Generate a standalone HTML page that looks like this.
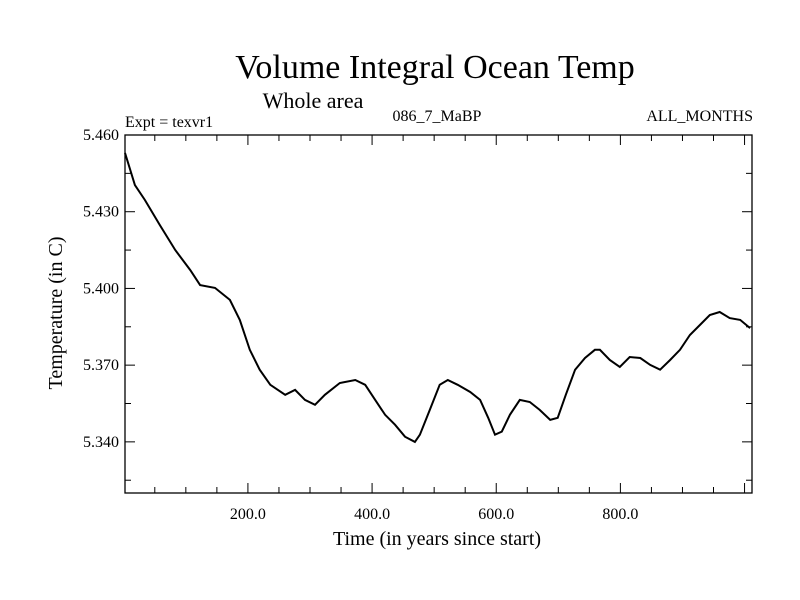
<!DOCTYPE html>
<html><head><meta charset="utf-8"><style>
body{margin:0;background:#fff;}
svg{display:block;font-family:"Liberation Serif",serif;}
</style></head><body>
<svg id="chart" width="800" height="600">
<text x="435" y="78" font-size="34" text-anchor="middle">Volume Integral Ocean Temp</text>
<text x="313" y="108" font-size="22" text-anchor="middle">Whole area</text>
<text x="125" y="127" font-size="16">Expt = texvr1</text>
<text x="437" y="121" font-size="16" text-anchor="middle">086_7_MaBP</text>
<text x="753" y="121" font-size="16" text-anchor="end">ALL_MONTHS</text>
<text transform="translate(62,313) rotate(-90)" font-size="20" text-anchor="middle">Temperature (in C)</text>
<text x="437" y="545" font-size="20" text-anchor="middle">Time (in years since start)</text>
<g id="axes"></g>
<path id="line" fill="none" stroke="#000" stroke-width="2"></path>
</svg>
<script>
const years=[2,18,34,58,83,107,123,147,171,187,203,219,236,260,276,292,308,324,348,373,389,405,421,437,453,469,477,493,509,522,538,558,574,587,598,609,622,638,654,670,687,699,712,727,743,759,767,783,799,815,832,848,864,880,896,912,928,944,960,976,993,1009];
const temps=[5.453,5.4404,5.4346,5.4248,5.415,5.4072,5.4013,5.4002,5.3955,5.3877,5.376,5.3682,5.3623,5.3584,5.3603,5.3564,5.3545,5.3584,5.3630,5.3642,5.3623,5.3564,5.3506,5.3467,5.342,5.34,5.3428,5.3525,5.3623,5.3642,5.3623,5.3595,5.3564,5.3494,5.3428,5.344,5.3506,5.3564,5.3556,5.3525,5.3486,5.3494,5.3584,5.3682,5.3728,5.376,5.376,5.372,5.3693,5.3732,5.3728,5.3701,5.3682,5.372,5.376,5.3818,5.3857,5.3896,5.3908,5.3884,5.3877,5.3845];
const xTicks=[200,400,600,800];
const xTickLabels=["200.0","400.0","600.0","800.0"];
const yTicks=[5.34,5.37,5.40,5.43,5.46];
const yTickLabels=["5.340","5.370","5.400","5.430","5.460"];
const X0=125,X1=752,Y0=135,Y1=493,xmin=2,xmax=1012,ymin=5.32,ymax=5.46;
const sx=v=>X0+(v-xmin)/(xmax-xmin)*(X1-X0);
const sy=v=>Y1-(v-ymin)/(ymax-ymin)*(Y1-Y0);
const NS="http://www.w3.org/2000/svg";
const g=document.getElementById('axes');
function mk(t,a){const e=document.createElementNS(NS,t);for(const k in a)e.setAttribute(k,a[k]);g.appendChild(e);return e;}
const fr=mk('rect',{x:X0,y:Y0,width:X1-X0,height:Y1-Y0,fill:'none',stroke:'#000','stroke-width':1.3});


for(let v=50;v<xmax;v+=50){const x=sx(v),L=(v%200===0)?10:6;
 const t1=mk('line',{x1:x,x2:x,y1:Y1,y2:Y1-L,stroke:'#000'});
 
 
 const t2=mk('line',{x1:x,x2:x,y1:Y0,y2:Y0+L,stroke:'#000'});
 
 }
xTicks.forEach((v,i)=>{const t=mk('text',{x:sx(v),y:Y1+26,'font-size':16,'text-anchor':'middle'});t.textContent=xTickLabels[i];
 
 });
for(let k=0;k<=9;k++){const v=5.325+k*0.015;const y=sy(v),L=(k%2===1)?10:6;
 const t1=mk('line',{x1:X0,x2:X0+L,y1:y,y2:y,stroke:'#000'});
 
 
 const t2=mk('line',{x1:X1,x2:X1-L,y1:y,y2:y,stroke:'#000'});
 
 }
yTicks.forEach((v,i)=>{const t=mk('text',{x:X0-6,y:sy(v)+5,'font-size':16,'text-anchor':'end'});t.textContent=yTickLabels[i];
 
 });
document.getElementById('line').setAttribute('d',years.map((v,i)=>(i?'L':'M')+sx(v).toFixed(1)+','+sy(temps[i]).toFixed(1)).join(''));
</script>
</body></html>
